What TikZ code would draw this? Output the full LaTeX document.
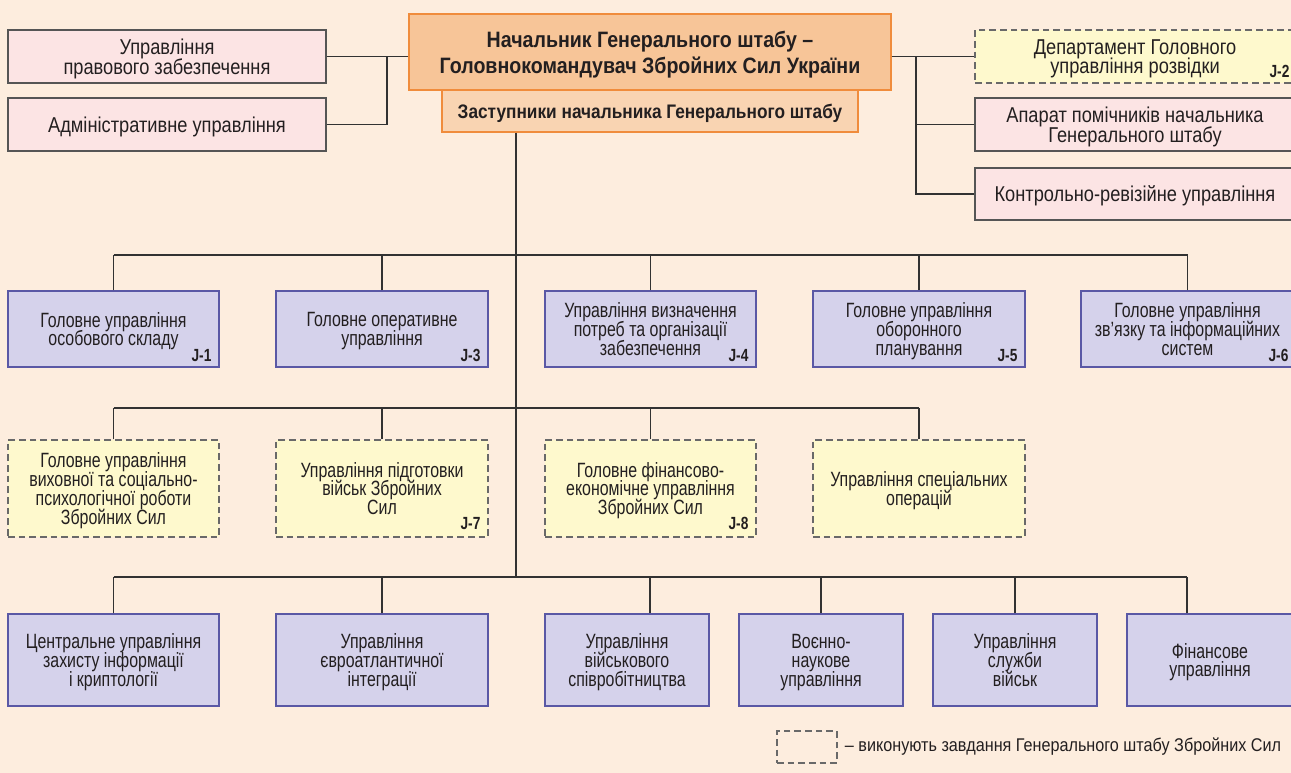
\documentclass[tikz,border=0pt]{standalone}
\usepackage{fontspec}
\setmainfont{Liberation Sans}[FakeStretch=0.77]
\newfontfamily\titlefont{Liberation Sans}[FakeStretch=0.88]
\newfontfamily\topfam{Liberation Sans}[FakeStretch=0.85]
\newfontfamily\jfam{Liberation Sans}[FakeStretch=0.78]
\usetikzlibrary{calc}
\newcommand\tightlines{\lineskiplimit=-20pt\relax\lineskip=0pt\relax}
\definecolor{bg}{RGB}{253,237,222}
\definecolor{mainfill}{RGB}{247,197,152}
\definecolor{subfill}{RGB}{249,212,178}
\definecolor{orangeline}{RGB}{240,140,60}
\definecolor{pinkfill}{RGB}{252,228,228}
\definecolor{grayline}{RGB}{85,85,85}
\definecolor{yelfill}{RGB}{254,249,205}
\definecolor{dashline}{RGB}{105,105,105}
\definecolor{lavfill}{RGB}{213,210,235}
\definecolor{lavline}{RGB}{90,88,165}
\definecolor{conline}{RGB}{50,50,50}
\definecolor{txt}{RGB}{35,31,32}
\tikzset{
  sz/.style 2 args={minimum width={#1*0.75pt}, minimum height={#2*0.75pt}},
  basebox/.style={line width=1pt, inner sep=0pt, align=center, text=txt,
    text depth=-1.5pt, font=\fontsize{15.5}{14.2}\selectfont\tightlines},
  topfont/.style={font=\topfam\fontsize{16.1}{14.6}\selectfont\tightlines},
  obox/.style={line width=1pt, draw=orangeline, fill=mainfill},
  otext/.style={inner sep=0pt, align=center, text=txt, text depth=-2.5pt,
    font=\titlefont\bfseries\fontsize{16.7}{19.5}\selectfont\tightlines},
  sbox/.style={basebox, draw=orangeline, fill=subfill, text depth=0pt,
    font=\titlefont\bfseries\fontsize{14.7}{16}\selectfont},
  pbox/.style={basebox, draw=grayline, fill=pinkfill, topfont},
  ybox/.style={basebox, draw=dashline, fill=yelfill, dash pattern=on 5pt off 3pt},
  lbox/.style={basebox, draw=lavline, fill=lavfill},
  jlab/.style={anchor=base east, inner sep=0pt, text=txt,
    font=\jfam\bfseries\fontsize{13.2}{13.2}\selectfont},
  conn/.style={draw=conline, line width=1pt},
}
\begin{document}
\begin{tikzpicture}[x=0.75pt,y=-0.75pt]
\useasboundingbox (0,0) rectangle (1291,773);
\fill[bg] (0,0) rectangle (1291,773);

% top
\node[sbox, sz={416}{42}] (sub) at (650,111) {Заступники начальника Генерального штабу};
\node[obox, sz={482}{76}] (main) at (650,52) {};
\node[otext] (maintxt) at (main.center) {Начальник Генерального штабу –\\Головнокомандувач Збройних Сил України};

% left
\node[pbox, sz={318}{53}] (l1) at (167,56.5) {Управління\\правового забезпечення};
\node[pbox, sz={318}{53}] (l2) at (167,124.5) {Адміністративне управління};
\coordinate (lj) at (387,56.5);
\draw[conn] (l1.east) -- (l1.east -| main.west);
\draw[conn] (l2.east) -| (lj);

% right
\node[ybox, topfont, sz={320}{53}] (r1) at (1135,56.5) {Департамент Головного\\управління розвідки};
\node[jlab] (j2) at ($(r1.south east)+(-6,-6)$) {J-2};
\node[pbox, sz={320}{53}] (r2) at (1135,124.5) {Апарат помічників начальника\\Генерального штабу};
\node[pbox, sz={320}{52}] (r3) at (1135,194) {Контрольно-ревізійне управління};
\coordinate (rj) at (916,56.5);
\draw[conn] (r1.west -| main.east) -- (r1.west);
\draw[conn] (rj) |- (r2.west);
\draw[conn] (rj) |- (r3.west);

% trunk
\coordinate (t1) at (516,255);
\coordinate (t2) at (516,408);
\coordinate (t3) at (516,577);
\draw[conn] (t1 |- sub.south) -- (t3);

% row 1
\node[lbox, sz={211}{76}] (a1) at (113.5,329) {Головне управління\\особового складу};
\node[lbox, sz={212}{76}] (a2) at (382,329) {Головне оперативне\\управління};
\node[lbox, sz={211}{76}] (a3) at (650.5,329) {Управління визначення\\потреб та організації\\забезпечення};
\node[lbox, sz={212}{76}] (a4) at (919,329) {Головне управління\\оборонного\\планування};
\node[lbox, sz={213}{76}] (a5) at (1187.5,329) {Головне управління\\зв'язку та інформаційних\\систем};
\node[jlab] at ($(a1.south east)+(-8,-6)$) {J-1};
\node[jlab] at ($(a2.south east)+(-8,-6)$) {J-3};
\node[jlab] at ($(a3.south east)+(-8,-6)$) {J-4};
\node[jlab] at ($(a4.south east)+(-8,-6)$) {J-5};
\node[jlab] at ($(a5.south east)+(-6,-6)$) {J-6};
\draw[conn] (a1.north |- t1) -- (a5.north |- t1);
\foreach \n in {a1,a2,a3,a4,a5} \draw[conn] (\n.north) -- (\n.north |- t1);

% row 2
\node[ybox, sz={211}{97}] (b1) at (113.5,488.5) {Головне управління\\виховної та соціально-\\психологічної роботи\\Збройних Сил};
\node[ybox, sz={212}{97}] (b2) at (382,488.5) {Управління підготовки\\військ Збройних\\Сил};
\node[ybox, sz={211}{97}] (b3) at (650.5,488.5) {Головне фінансово-\\економічне управління\\Збройних Сил};
\node[ybox, sz={212}{97}] (b4) at (919,488.5) {Управління спеціальних\\операцій};
\node[jlab] at ($(b2.south east)+(-8,-8)$) {J-7};
\node[jlab] at ($(b3.south east)+(-8,-8)$) {J-8};
\draw[conn] (b1.north |- t2) -- (b4.north |- t2);
\foreach \n in {b1,b2,b3,b4} \draw[conn] (\n.north) -- (\n.north |- t2);

% row 3
\node[lbox, sz={211}{92}] (c1) at (113.5,660) {Центральне управління\\захисту інформації\\і криптології};
\node[lbox, sz={212}{92}] (c2) at (382,660) {Управління\\євроатлантичної\\інтеграції};
\node[lbox, sz={164}{92}] (c3) at (627,660) {Управління\\військового\\співробітництва};
\node[lbox, sz={164}{92}] (c4) at (821,660) {Воєнно-\\наукове\\управління};
\node[lbox, sz={164}{92}] (c5) at (1015,660) {Управління\\служби\\військ};
\node[lbox, sz={166}{92}] (c6) at (1210,660) {Фінансове\\управління};
\coordinate (d1) at (c1.north);
\coordinate (d2) at (c2.north);
\coordinate (d3) at ($(c3.north)+(23,0)$);
\coordinate (d4) at (c4.north);
\coordinate (d5) at (c5.north);
\coordinate (d6) at ($(c6.north)+(-23,0)$);
\draw[conn] (d1 |- t3) -- (d6 |- t3);
\foreach \n in {d1,d2,d3,d4,d5,d6} \draw[conn] (\n) -- (\n |- t3);

% legend
\node[draw=dashline, line width=1pt, dash pattern=on 5pt off 3pt, inner sep=0pt, sz={60}{32}] (leg) at (807,747) {};
\node[anchor=west, inner sep=0pt, text=txt, font=\titlefont\fontsize{13.8}{14}\selectfont] (legt) at ($(leg.east)+(7,0)$) {– виконують завдання Генерального штабу Збройних Сил};
\end{tikzpicture}
\end{document}
